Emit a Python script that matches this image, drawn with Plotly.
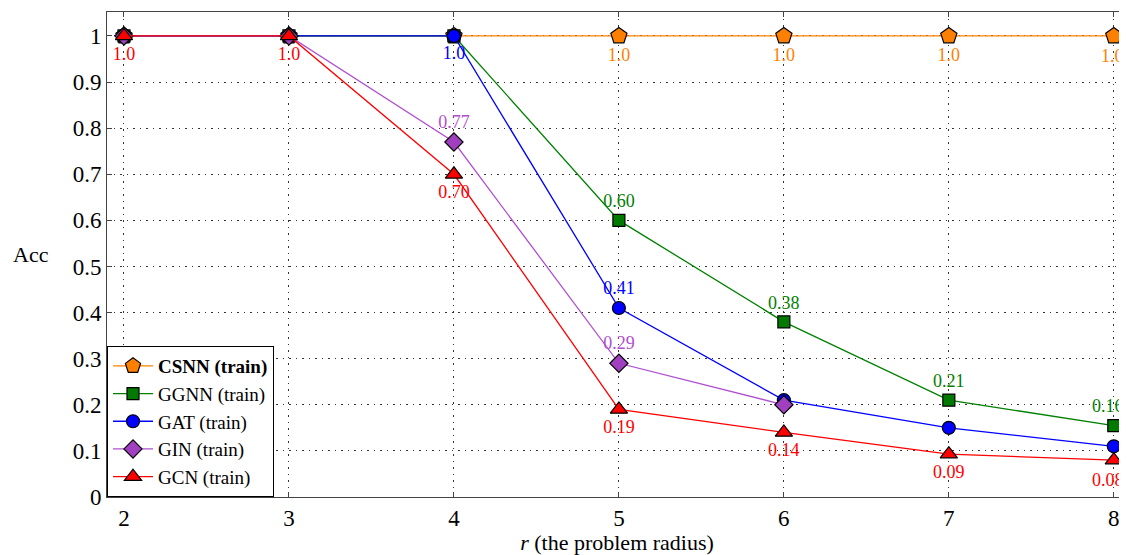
import plotly.graph_objects as go

r_vals = [2, 3, 4, 5, 6, 7, 8]
csnn = [1.0, 1.0, 1.0, 1.0, 1.0, 1.0, 1.0]
ggnn = [1.0, 1.0, 1.0, 0.60, 0.38, 0.21, 0.155]
gat = [1.0, 1.0, 1.0, 0.41, 0.21, 0.15, 0.11]
gin_r = [2, 3, 4, 5, 6]
gin = [1.0, 1.0, 0.77, 0.29, 0.20]
gcn = [1.0, 1.0, 0.70, 0.19, 0.14, 0.093, 0.08]

csnn_lbl = ["", "", "", "1.0", "1.0", "1.0", "1.0"]
ggnn_lbl = ["", "", "", "0.60", "0.38", "0.21", "0.16"]
gat_lbl = ["", "", "1.0", "0.41", "", "", ""]
gat_pos = ["top center", "top center", "bottom center", "top center", "top center", "top center", "top center"]
gin_lbl = ["", "", "0.77", "0.29", ""]
gcn_lbl = ["1.0", "1.0", "0.70", "0.19", "0.14", "0.09", "0.08"]

y_ticks = [0, 0.1, 0.2, 0.3, 0.4, 0.5, 0.6, 0.7, 0.8, 0.9, 1]
y_ticktext = ["0", "0.1", "0.2", "0.3", "0.4", "0.5", "0.6", "0.7", "0.8", "0.9", "1"]

FONT = "Liberation Serif"

series = [
    ("<b>CSNN (train)</b>", r_vals, csnn, csnn_lbl, "bottom center", "#ff8000", "#ff8000", "pentagon", 17, -1),
    ("GGNN (train)", r_vals, ggnn, ggnn_lbl, "top center", "#008000", "#007a00", "square", 12, 1),
    ("GAT (train)", r_vals, gat, gat_lbl, gat_pos, "#0000ff", "#0000ff", "circle", 13, 1),
    ("GIN (train)", gin_r, gin, gin_lbl, "top center", "#b050d0", "#a040c0", "diamond", 14, 1),
    ("GCN (train)", r_vals, gcn, gcn_lbl, "bottom center", "#ff0000", "#ff0000", "triangle-up", 15, -1),
]

fig = go.Figure()
annotations = [dict(
    text="Acc", xref="paper", yref="paper", x=-0.075, y=0.5,
    xanchor="center", yanchor="middle", showarrow=False,
    font=dict(family=FONT, size=22, color="black"),
)]
for name, xs, ys, lbl, pos, lc, mc, sym, sz, side in series:
    lbl_inner = list(lbl)
    # last point at the right edge: label drawn as a right-aligned annotation so it stays in view
    if xs[-1] == r_vals[-1] and lbl[-1]:
        annotations.append(dict(
            text=lbl[-1], x=xs[-1], y=ys[-1], xref="x", yref="y",
            xanchor="right", yanchor="bottom" if side > 0 else "top",
            xshift=12, yshift=8 * side, showarrow=False,
            font=dict(family=FONT, size=18, color=lc),
        ))
        lbl_inner[-1] = ""
    fig.add_trace(go.Scatter(
        x=xs, y=ys, name=name, mode="lines+markers+text",
        text=lbl_inner, textposition=pos,
        textfont=dict(family=FONT, size=18, color=lc),
        line=dict(color=lc, width=1.3),
        marker=dict(symbol=sym, size=sz, color=mc, line=dict(color="black", width=1.2)),
        cliponaxis=False,
    ))

grid_dash = "1.5px,5px"

fig.update_layout(
    width=1119, height=547,
    margin=dict(l=99, r=0, t=4, b=58, autoexpand=False),
    plot_bgcolor="white", paper_bgcolor="white",
    font=dict(family=FONT, size=22, color="black"),
    showlegend=True,
    legend=dict(
        x=0.0, y=0.0, xanchor="left", yanchor="bottom",
        bgcolor="white", bordercolor="black", borderwidth=1,
        font=dict(family=FONT, size=19, color="black"),
        tracegroupgap=0, itemwidth=40,
    ),
    xaxis=dict(
        range=[1.897, 8.08], tickvals=r_vals,
        showgrid=True, gridcolor="#333333", griddash=grid_dash, gridwidth=1,
        showline=True, linecolor="#444444", linewidth=1, mirror="ticks",
        ticks="inside", ticklen=5, tickcolor="#444444",
        zeroline=False,
        tickfont=dict(family=FONT, size=23),
        title=dict(text="<i>r</i> (the problem radius)", font=dict(family=FONT, size=22), standoff=4),
    ),
    yaxis=dict(
        range=[0, 1.052], tickvals=y_ticks, ticktext=y_ticktext,
        showgrid=True, gridcolor="#333333", griddash=grid_dash, gridwidth=1,
        showline=True, linecolor="#444444", linewidth=1, mirror="ticks",
        ticks="inside", ticklen=5, tickcolor="#444444",
        zeroline=False,
        tickfont=dict(family=FONT, size=23),
    ),
    annotations=annotations,
)

fig.write_html("out.html")
